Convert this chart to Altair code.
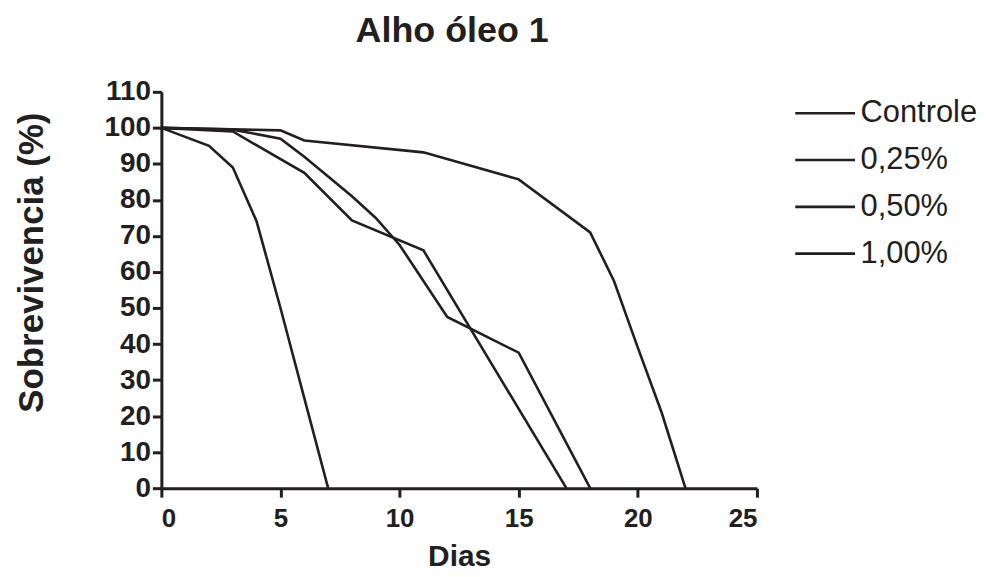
import altair as alt
import pandas as pd

series_names = ["Controle", "0,25%", "0,50%", "1,00%"]

controle_dias = [0, 5, 6, 11, 15, 18, 19, 20, 21, 22]
controle_vals = [100, 99.3, 96.5, 93.2, 85.7, 71, 57.5, 39, 21, 0]

p025_dias = [0, 3, 5, 6, 7, 8, 9, 10, 12, 15, 18]
p025_vals = [100, 99.5, 97, 92, 86.5, 81, 75, 67.5, 47.5, 37.6, 0]

p050_dias = [0, 3, 6, 8, 11, 17]
p050_vals = [100, 99, 87.5, 74.3, 66, 0]

p100_dias = [0, 2, 3, 4, 5, 6, 7]
p100_vals = [100, 95, 89, 74, 50, 25, 0]

x_ticks = [0, 5, 10, 15, 20, 25]
y_ticks = [0, 10, 20, 30, 40, 50, 60, 70, 80, 90, 100, 110]

rows = []
for name, ds, vs in [
    (series_names[0], controle_dias, controle_vals),
    (series_names[1], p025_dias, p025_vals),
    (series_names[2], p050_dias, p050_vals),
    (series_names[3], p100_dias, p100_vals),
]:
    for d, v in zip(ds, vs):
        rows.append({"serie": name, "dia": d, "sobrev": v})
df = pd.DataFrame(rows)

INK = "#231f20"
FONT = "Liberation Sans"

chart = (
    alt.Chart(df)
    .mark_line(strokeWidth=2.6, strokeJoin="miter")
    .encode(
        x=alt.X(
            "dia:Q",
            title="Dias",
            scale=alt.Scale(domain=[0, 25], nice=False),
            axis=alt.Axis(values=x_ticks, format="d", labelPadding=8,
                          labelFontSize=26, titlePadding=11, titleFontSize=30),
        ),
        y=alt.Y(
            "sobrev:Q",
            title="Sobrevivencia (%)",
            scale=alt.Scale(domain=[0, 110], nice=False),
            axis=alt.Axis(values=y_ticks, format="d", labelPadding=2,
                          labelFontSize=28, titlePadding=55, titleFontSize=35,
                          titleY=171),
        ),
        color=alt.Color(
            "serie:N",
            scale=alt.Scale(domain=series_names, range=[INK] * 4),
            legend=alt.Legend(
                title=None,
                orient="none",
                legendX=635,
                legendY=-10,
                symbolType="stroke",
                symbolSize=3600,
                symbolStrokeWidth=2.6,
                symbolStrokeColor=INK,
                labelFontSize=31,
                labelFont=FONT,
                labelColor=INK,
                labelOffset=4,
                rowPadding=-2,
            ),
        ),
        order="dia:Q",
    )
    .properties(
        width=598,
        height=398,
        title=alt.TitleParams(
            "Alho óleo 1",
            fontSize=36,
            font=FONT,
            fontWeight="bold",
            color=INK,
            anchor="middle",
            offset=28,
            dx=-7,
        ),
        autosize=alt.AutoSizeParams(type="none"),
        padding={"left": 154, "top": 83, "right": 225, "bottom": 82},
    )
    .configure_view(stroke=None)
    .configure_axis(
        grid=False,
        domainColor=INK,
        domainWidth=3,
        tickColor=INK,
        tickWidth=3,
        tickSize=9,
        labelFont=FONT,
        labelFontWeight="bold",
        labelColor=INK,
        titleFont=FONT,
        titleFontWeight="bold",
        titleColor=INK,
    )
)

chart.save("out.html", embed_options={"renderer": "svg", "actions": False})
